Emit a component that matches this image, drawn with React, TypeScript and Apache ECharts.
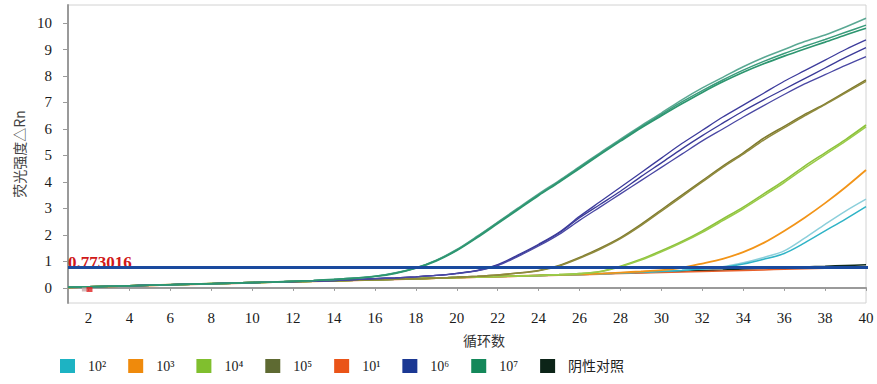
import React, { useEffect, useRef } from "react";
import * as echarts from "echarts";

const CYCLES = [1,2,3,4,5,6,7,8,9,10,11,12,13,14,15,16,17,18,19,20,21,22,23,24,25,26,27,28,29,30,31,32,33,34,35,36,37,38,39,40];
const X_TICKS = [2,4,6,8,10,12,14,16,18,20,22,24,26,28,30,32,34,36,38,40];
const Y_TICKS = [0,1,2,3,4,5,6,7,8,9,10];
const THRESHOLD = 0.773016;
const THRESHOLD_LINE = [[1, 0.773016], [40.2, 0.773016]];

const NEG = [0.02,0.04,0.06,0.08,0.10,0.12,0.14,0.16,0.18,0.20,0.22,0.24,0.25,0.27,0.29,0.31,0.33,0.35,0.37,0.39,0.41,0.43,0.45,0.47,0.49,0.51,0.53,0.56,0.58,0.61,0.63,0.66,0.68,0.71,0.73,0.76,0.79,0.82,0.85,0.87];
const E1 = [0.01,0.03,0.05,0.07,0.09,0.11,0.13,0.15,0.17,0.19,0.21,0.23,0.25,0.26,0.28,0.30,0.32,0.34,0.36,0.38,0.40,0.42,0.44,0.46,0.48,0.50,0.52,0.54,0.56,0.58,0.60,0.62,0.64,0.66,0.68,0.70,0.72,0.74,0.76,0.78];
const E2_A = [0.02,0.04,0.06,0.08,0.10,0.12,0.14,0.16,0.18,0.20,0.22,0.24,0.25,0.27,0.29,0.31,0.33,0.35,0.37,0.39,0.41,0.43,0.45,0.47,0.49,0.51,0.53,0.57,0.60,0.63,0.67,0.72,0.80,0.95,1.15,1.40,1.88,2.40,2.90,3.35];
const E2_B = [0.02,0.04,0.06,0.08,0.10,0.12,0.14,0.16,0.18,0.20,0.22,0.24,0.25,0.27,0.29,0.31,0.33,0.35,0.37,0.39,0.41,0.43,0.45,0.47,0.49,0.51,0.53,0.56,0.59,0.62,0.66,0.71,0.78,0.90,1.08,1.30,1.70,2.15,2.60,3.07];
const E3 = [0.02,0.04,0.06,0.08,0.10,0.12,0.14,0.16,0.18,0.20,0.22,0.24,0.25,0.27,0.29,0.31,0.33,0.35,0.37,0.39,0.41,0.43,0.45,0.47,0.49,0.51,0.54,0.58,0.62,0.67,0.76,0.92,1.10,1.35,1.70,2.15,2.65,3.20,3.80,4.45];
const E4_A = [0.02,0.04,0.06,0.08,0.10,0.12,0.14,0.16,0.18,0.20,0.22,0.24,0.25,0.27,0.29,0.31,0.33,0.35,0.37,0.39,0.41,0.43,0.45,0.47,0.50,0.54,0.62,0.82,1.08,1.40,1.75,2.15,2.60,3.05,3.55,4.05,4.60,5.10,5.60,6.15];
const E4_B = [0.02,0.04,0.06,0.08,0.10,0.12,0.14,0.16,0.18,0.20,0.22,0.24,0.25,0.27,0.29,0.31,0.33,0.35,0.37,0.39,0.41,0.43,0.45,0.47,0.50,0.54,0.61,0.80,1.05,1.36,1.71,2.10,2.54,2.99,3.48,3.98,4.52,5.03,5.54,6.08];
const E5_A = [0.02,0.04,0.06,0.08,0.10,0.12,0.14,0.16,0.18,0.20,0.22,0.24,0.25,0.27,0.29,0.31,0.33,0.35,0.37,0.40,0.44,0.49,0.56,0.66,0.85,1.15,1.50,1.90,2.40,2.95,3.50,4.05,4.60,5.10,5.65,6.10,6.55,6.95,7.40,7.85];
const E5_B = [0.02,0.04,0.06,0.08,0.10,0.12,0.14,0.16,0.18,0.20,0.22,0.24,0.25,0.27,0.29,0.31,0.33,0.35,0.37,0.40,0.44,0.49,0.56,0.65,0.83,1.12,1.46,1.86,2.35,2.90,3.45,4.00,4.55,5.05,5.58,6.04,6.50,6.92,7.36,7.80];
const E6_A = [0.02,0.04,0.06,0.08,0.10,0.12,0.14,0.16,0.18,0.20,0.22,0.24,0.26,0.28,0.31,0.35,0.38,0.42,0.47,0.55,0.66,0.88,1.25,1.65,2.10,2.70,3.25,3.80,4.35,4.90,5.45,5.95,6.45,6.90,7.35,7.80,8.20,8.60,9.00,9.36];
const E6_B = [0.02,0.04,0.06,0.08,0.10,0.12,0.14,0.16,0.18,0.20,0.22,0.24,0.26,0.28,0.31,0.35,0.38,0.42,0.47,0.55,0.65,0.86,1.22,1.62,2.07,2.65,3.15,3.65,4.20,4.72,5.25,5.75,6.22,6.68,7.10,7.50,7.90,8.30,8.70,9.07];
const E6_C = [0.02,0.04,0.06,0.08,0.10,0.12,0.14,0.16,0.18,0.20,0.22,0.24,0.26,0.28,0.31,0.35,0.38,0.42,0.47,0.54,0.64,0.84,1.19,1.58,2.02,2.55,3.05,3.55,4.05,4.55,5.05,5.55,6.00,6.45,6.88,7.30,7.70,8.05,8.40,8.73];
const E7_A = [0.02,0.04,0.06,0.08,0.10,0.12,0.14,0.16,0.18,0.20,0.22,0.25,0.28,0.32,0.37,0.44,0.57,0.76,1.05,1.45,1.95,2.48,3.02,3.55,4.05,4.58,5.10,5.62,6.12,6.60,7.10,7.55,7.95,8.35,8.70,9.00,9.30,9.55,9.85,10.18];
const E7_B = [0.02,0.04,0.06,0.08,0.10,0.12,0.14,0.16,0.18,0.20,0.22,0.25,0.28,0.32,0.37,0.44,0.56,0.75,1.04,1.43,1.93,2.46,2.99,3.52,4.02,4.55,5.07,5.58,6.08,6.55,7.02,7.45,7.85,8.22,8.55,8.85,9.12,9.38,9.65,9.92];
const E7_C = [0.02,0.04,0.06,0.08,0.10,0.12,0.14,0.16,0.18,0.20,0.22,0.25,0.28,0.32,0.36,0.43,0.55,0.74,1.02,1.41,1.90,2.43,2.96,3.49,3.99,4.51,5.03,5.54,6.04,6.50,6.95,7.38,7.78,8.14,8.46,8.75,9.02,9.28,9.55,9.80];
const MARKER = [[2.05, -0.06]];
const MARKER_GRAY = [[1.8, -0.06]];

const LEGEND_NAMES = ["10²", "10³", "10⁴", "10⁵", "10¹", "10⁶", "10⁷", "阴性对照"];
const LEGEND_COLORS = ["#1db3c3", "#ef8a0c", "#80bf2e", "#5e6a32", "#ea5418", "#1b3893", "#14885a", "#0c2418"];

function pairs(vals: number[]) {
  return CYCLES.map((c, i) => [c, vals[i]]);
}

function curve(name: string, vals: number[], color: string, width = 1.5) {
  return {
    type: "line",
    name,
    data: pairs(vals),
    showSymbol: false,
    symbol: "none",
    smooth: 0.3,
    lineStyle: { color, width },
    itemStyle: { color },
    emphasis: { disabled: true },
    silent: true,
  };
}

export default function App() {
  const ref = useRef<HTMLDivElement>(null);
  useEffect(() => {
    if (!ref.current) return;
    const chart = echarts.init(ref.current, null, { renderer: "svg" });
    const serif = "'Liberation Serif', 'Times New Roman', serif";
    const cjk = "'Noto Sans CJK SC', sans-serif";
    chart.setOption({
      animation: false,
      backgroundColor: "#ffffff",
      grid: { left: 68, right: 11, top: 5, bottom: 81, show: true, borderColor: "#d2d2d2", borderWidth: 1 },
      legend: {
        left: 60,
        top: 359,
        padding: 0,
        icon: "rect",
        itemWidth: 15,
        itemHeight: 14,
        itemGap: 22,
        selectedMode: false,
        textStyle: { fontFamily: serif + ", 'Noto Sans CJK SC'", fontSize: 14, color: "#222", padding: [0, 0, 0, 8] },
        data: LEGEND_NAMES.map((n, i) => ({ name: n, itemStyle: { color: LEGEND_COLORS[i], borderWidth: 0 } })),
      },
      xAxis: {
        type: "value",
        min: 1,
        max: 40,
        name: "循环数",
        nameLocation: "middle",
        nameGap: 30,
        nameTextStyle: { fontFamily: cjk, fontSize: 14, color: "#333", padding: [0, 0, 0, 34] },
        axisLine: { show: true, lineStyle: { color: "#9a9a9a", width: 2 } },
        axisTick: { show: true, customValues: X_TICKS, length: 3, lineStyle: { color: "#9a9a9a" } },
        axisLabel: { customValues: X_TICKS, fontFamily: serif, fontSize: 15, color: "#1a1a1a", margin: 7 },
        splitLine: { show: false },
      },
      yAxis: {
        type: "value",
        min: -0.57,
        max: 10.68,
        name: "荧光强度△Rn",
        nameLocation: "middle",
        nameGap: 40,
        nameRotate: 90,
        nameTextStyle: { fontFamily: cjk, fontSize: 14, color: "#444" },
        axisLine: { show: true, lineStyle: { color: "#9a9a9a", width: 2 } },
        axisTick: { show: true, customValues: Y_TICKS, length: 5, lineStyle: { color: "#9a9a9a" } },
        axisLabel: { customValues: Y_TICKS, fontFamily: serif, fontSize: 15, color: "#1a1a1a", margin: 16 },
        splitLine: { show: false },
      },
      series: [
        curve("阴性对照", NEG, "#0e2a1c"),
        curve("10¹", E1, "#e8602a"),
        curve("10²", E2_A, "#8ccfdb"),
        curve("10²", E2_B, "#2fb3c6"),
        curve("10³", E3, "#f29418", 1.8),
        curve("10⁴", E4_A, "#8dc23c", 1.6),
        curve("10⁴", E4_B, "#9acb4a", 1.6),
        curve("10⁵", E5_A, "#7f7a2e"),
        curve("10⁵", E5_B, "#8f8a3c"),
        curve("10⁶", E6_A, "#3d3c9c", 1.3),
        curve("10⁶", E6_B, "#3a3a98", 1.3),
        curve("10⁶", E6_C, "#4a48a4", 1.3),
        curve("10⁷", E7_A, "#5aa893"),
        curve("10⁷", E7_B, "#3a9c7c"),
        curve("10⁷", E7_C, "#2d9670", 1.7),
        {
          type: "scatter",
          name: "marker-gray",
          data: MARKER_GRAY,
          symbol: "rect",
          symbolSize: [5, 4],
          itemStyle: { color: "#c8a8a8" },
          silent: true,
          z: 4,
        },
        {
          type: "scatter",
          name: "marker",
          data: MARKER,
          symbol: "rect",
          symbolSize: [6, 5],
          itemStyle: { color: "#e02020" },
          silent: true,
          z: 4,
        },
        {
          type: "line",
          name: "threshold-label",
          data: [],
          silent: true,
          z: 3,
          markLine: {
            silent: true,
            symbol: ["none", "none"],
            animation: false,
            lineStyle: { color: "rgba(255,255,255,0)", width: 1, type: "solid" },
            label: {
              show: true,
              position: "insideStartTop",
              distance: [0, -3],
              formatter: "0.773016",
              color: "#d01818",
              fontWeight: "bold",
              fontFamily: serif,
              fontSize: 17,
            },
            data: [{ yAxis: THRESHOLD }],
          },
        },
        {
          type: "line",
          name: "threshold",
          data: THRESHOLD_LINE,
          showSymbol: false,
          symbol: "none",
          silent: true,
          clip: false,
          z: 6,
          lineStyle: { color: "#1a4a9e", width: 3 },
          emphasis: { disabled: true },
        },
      ],
    });
    return () => chart.dispose();
  }, []);
  return (
    <div
      ref={ref}
      style={{ position: "fixed", left: 0, top: 0, width: 877, height: 384, background: "#fff" }}
    />
  );
}
